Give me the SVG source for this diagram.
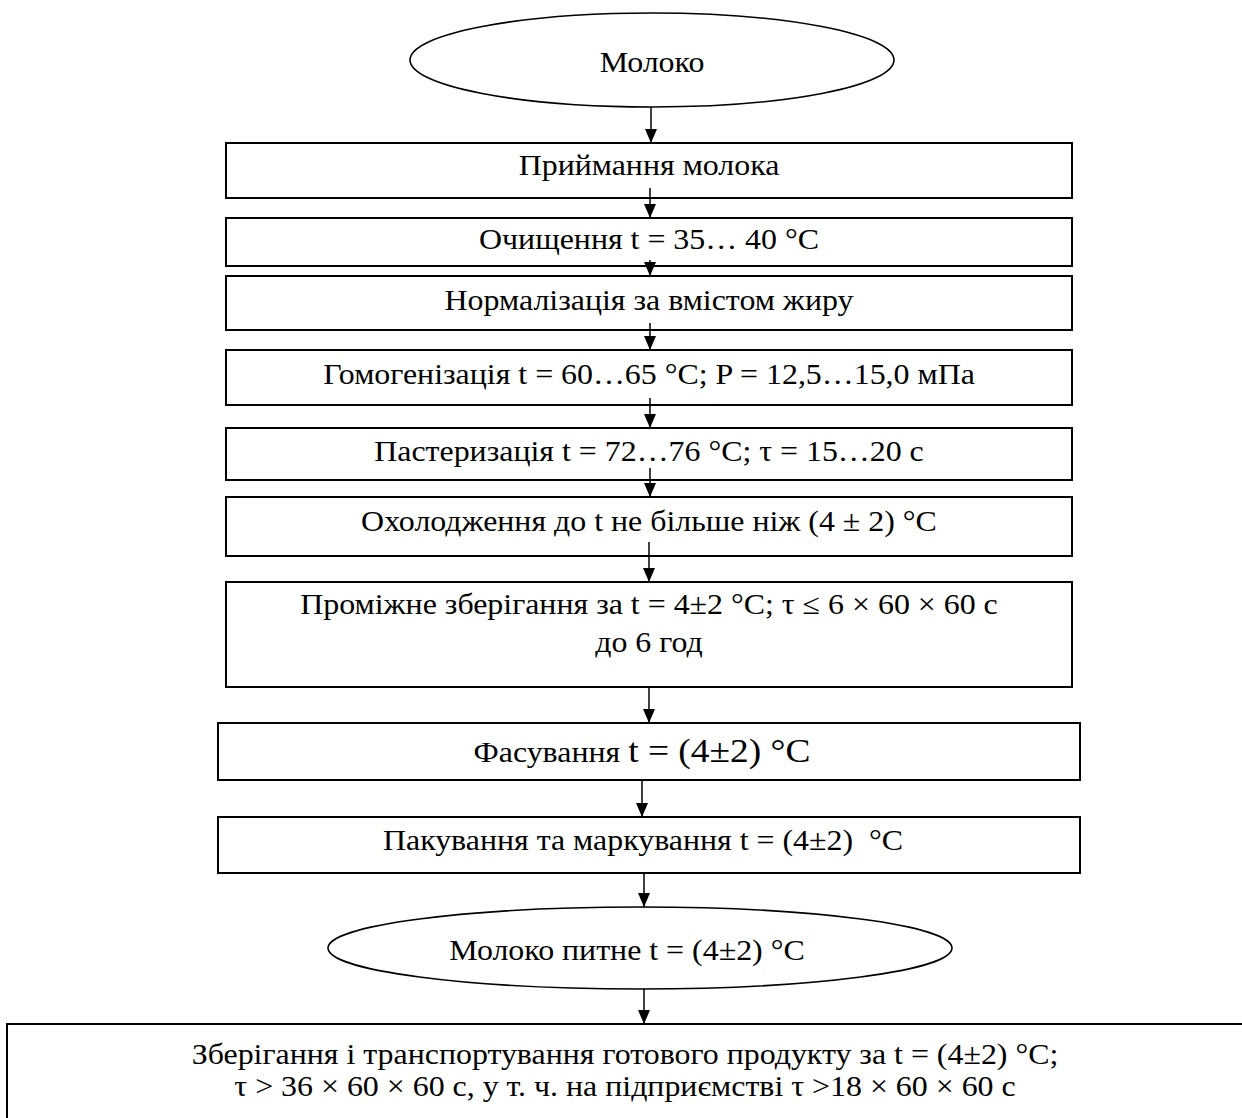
<svg xmlns="http://www.w3.org/2000/svg" width="1242" height="1118" viewBox="0 0 1242 1118">
<defs>
<marker id="ah" viewBox="0 0 14 12" refX="14" refY="6" markerWidth="14" markerHeight="12" markerUnits="userSpaceOnUse" orient="auto">
<path d="M0,0 L14,6 L0,12 z" fill="#000"/>
</marker>
<style>
.b{fill:#fff;stroke:#000;stroke-width:2}
.e{fill:#fff;stroke:#000;stroke-width:1.6}
.t{font-family:"Liberation Serif","Times New Roman",serif;font-size:29px;fill:#000;text-anchor:middle}
.c{stroke:#000;stroke-width:1.5;fill:none}
</style>
</defs>
<rect width="1242" height="1118" fill="#fff"/>
<g id="n0"><ellipse class="e" cx="652" cy="60" rx="242" ry="47"/><text class="t" transform="translate(652 72) scale(1.1 1)">Молоко</text></g>
<g id="n1"><rect class="b" x="226" y="143" width="846" height="55"/><text class="t" transform="translate(649 175) scale(1.1 1)">Приймання молока</text></g>
<g id="n2"><rect class="b" x="226" y="218" width="846" height="48"/><text class="t" transform="translate(649 249) scale(1.1 1)">Очищення t = 35… 40 °C</text></g>
<g id="n3"><rect class="b" x="226" y="276" width="846" height="54"/><text class="t" transform="translate(649 310) scale(1.1 1)">Нормалізація за вмістом жиру</text></g>
<g id="n4"><rect class="b" x="226" y="350" width="846" height="55"/><text class="t" transform="translate(649 384) scale(1.1 1)">Гомогенізація t = 60…65 °C; P = 12,5…15,0 мПа</text></g>
<g id="n5"><rect class="b" x="226" y="428" width="846" height="52"/><text class="t" transform="translate(649 461) scale(1.1 1)">Пастеризація t = 72…76 °C; τ = 15…20 с</text></g>
<g id="n6"><rect class="b" x="226" y="497" width="846" height="59"/><text class="t" transform="translate(649 531) scale(1.1 1)">Охолодження до t не більше ніж (4 ± 2) °C</text></g>
<g id="n7"><rect class="b" x="226" y="582" width="846" height="105"/><text class="t" transform="translate(649 614) scale(1.1 1)">Проміжне зберігання за t = 4±2 °C; τ ≤ 6 × 60 × 60 с</text><text class="t" transform="translate(649 652) scale(1.1 1)">до 6 год</text></g>
<g id="n8"><rect class="b" x="218" y="723" width="862" height="57"/><text class="t" transform="translate(642 762) scale(1.1 1)">Фасування <tspan font-size="34">t = (4±2) °C</tspan></text></g>
<g id="n9"><rect class="b" x="218" y="817" width="862" height="56"/><text class="t" xml:space="preserve" transform="translate(643 850) scale(1.1 1)">Пакування та маркування t = (4±2)  °C</text></g>
<g id="n10"><ellipse class="e" cx="640" cy="948" rx="312" ry="41"/><text class="t" transform="translate(627 960) scale(1.1 1)">Молоко питне t = (4±2) °C</text></g>
<g id="n11"><rect class="b" x="7" y="1024" width="1245" height="110"/><text class="t" transform="translate(625 1064) scale(1.1 1)">Зберігання і транспортування готового продукту за t = (4±2) °C;</text><text class="t" transform="translate(625 1096) scale(1.1 1)">τ &gt; 36 × 60 × 60 с, у т. ч. на підприємстві τ &gt;18 × 60 × 60 с</text></g>
<g id="connectors">
<line class="c" x1="651" y1="107" x2="651" y2="143" marker-end="url(#ah)"/>
<line class="c" x1="650" y1="188" x2="650" y2="218" marker-end="url(#ah)"/>
<line class="c" x1="650" y1="260" x2="650" y2="276" marker-end="url(#ah)"/>
<line class="c" x1="650" y1="323" x2="650" y2="350" marker-end="url(#ah)"/>
<line class="c" x1="650" y1="398" x2="650" y2="428" marker-end="url(#ah)"/>
<line class="c" x1="650" y1="468" x2="650" y2="497" marker-end="url(#ah)"/>
<line class="c" x1="649" y1="542" x2="649" y2="582" marker-end="url(#ah)"/>
<line class="c" x1="649" y1="687" x2="649" y2="723" marker-end="url(#ah)"/>
<line class="c" x1="642" y1="780" x2="642" y2="817" marker-end="url(#ah)"/>
<line class="c" x1="644" y1="873" x2="644" y2="907" marker-end="url(#ah)"/>
<line class="c" x1="644" y1="989" x2="644" y2="1024" marker-end="url(#ah)"/>
</g>
</svg>
